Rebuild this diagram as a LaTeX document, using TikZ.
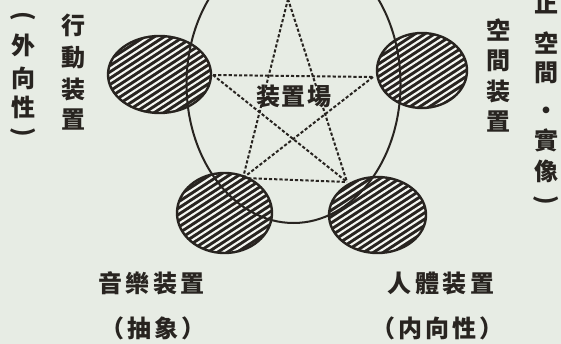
\documentclass[tikz,border=0pt]{standalone}
\usepackage{fontspec}
\usetikzlibrary{shapes.geometric}
\newfontfamily\cjk{Noto Sans CJK TC}
\definecolor{bg}{RGB}{231,236,228}
\definecolor{ink}{RGB}{40,36,32}
\definecolor{paper}{RGB}{244,246,241}
\newcommand\myhatch[5]{%
  \begin{scope}
    \clip (#2,#3) ellipse [x radius=#4, y radius=#5];
    \fill[ink] (#2,#3) ellipse [x radius=#4, y radius=#5];
    \begin{scope}[shift={(#2,#3)}, rotate=33]
      \foreach \k in {-14,...,14} \draw[paper, line width=2.1pt] (-80,\k*5.3) -- (80,\k*5.3);
    \end{scope}
  \end{scope}
  \node[blob, minimum width=2*#4 pt, minimum height=2*#5 pt] (#1) at (#2,#3) {};
}
\begin{document}
\begin{tikzpicture}[x=1pt,y=-1pt,
  lbl/.style={font=\cjk\bfseries\fontsize{24}{24}\selectfont, text=ink, inner sep=0pt},
  vch/.style={lbl},
  vpar/.style={lbl, rotate=-90},
  blob/.style={ellipse, draw=ink, line width=2.4pt, inner sep=0pt},
  field/.style={ellipse, draw=ink, line width=2pt, inner sep=0pt},
  starline/.style={draw=ink, line width=2pt, dash pattern=on 3.2pt off 2pt}]
\useasboundingbox (0,0) rectangle (561,344);
\fill[bg] (0,0) rectangle (561,344);

% hatched devices
\myhatch{act}{159.5}{74.5}{51.5}{38.5}
\myhatch{spc}{422}{70.5}{45}{37.5}
\myhatch{mus}{224.5}{213}{47.5}{40}
\myhatch{bod}{377.5}{215}{48.5}{38}

% the field
\node[field, minimum width=214pt, minimum height=278pt] (fld) at (293.5,84) {};

% star
\coordinate (s1) at (288,-1);
\coordinate (s2) at (213,75);
\coordinate (s3) at (373,77);
\coordinate (s4) at (243,178);
\coordinate (s5) at (347,182);
\draw[starline] (s1) -- (s4);
\draw[starline] (s1) -- (s5);
\draw[starline] (s2) -- (s3);
\draw[starline] (s2) -- (s5);
\draw[starline] (s3) -- (s4);
\draw[starline] (s4) -- (s5);

\node[lbl] (center) at (294,96) {装\hspace{2pt}置\hspace{2pt}場};

% left outer column
\node[vpar] (lo1) at (23.5,16) {(};
\node[vch] (lo2) at (23.5,45) {外};
\node[vch] (lo3) at (23.5,78) {向};
\node[vch] (lo4) at (23.5,107.5) {性};
\node[vpar] (lo5) at (23.5,132) {)};
% left inner column
\node[vch] (li1) at (73.5,25) {行};
\node[vch] (li2) at (73.5,57.5) {動};
\node[vch] (li3) at (73.5,89) {装};
\node[vch] (li4) at (73.5,120) {置};
% right inner column
\node[vch] (ri1) at (498,30) {空};
\node[vch] (ri2) at (498,61) {間};
\node[vch] (ri3) at (498,91.5) {装};
\node[vch] (ri4) at (498,121.5) {置};
% right outer column
\node[vch] (ro1) at (546,4) {正};
\node[vch] (ro2) at (546,43) {空};
\node[vch] (ro3) at (546,73) {間};
\node[vch] (ro4) at (546,113) {・};
\node[vch] (ro5) at (546,140) {實};
\node[vch] (ro6) at (546,171) {像};
\node[vpar] (ro7) at (546,200) {)};

% bottom labels
\node[lbl] (musl) at (151.5,283) {音\hspace{3.5pt}樂\hspace{3.5pt}装\hspace{3.5pt}置};
\node[lbl] (musp) at (152.5,328) {（\hspace{3pt}抽\hspace{3pt}象\hspace{3pt}）};
\node[lbl] (bodl) at (441,283) {人\hspace{3.5pt}體\hspace{3.5pt}装\hspace{3.5pt}置};
\node[lbl] (bodp) at (437,328) {（\hspace{3pt}内\hspace{3pt}向\hspace{3pt}性\hspace{3pt}）};
\end{tikzpicture}
\end{document}
